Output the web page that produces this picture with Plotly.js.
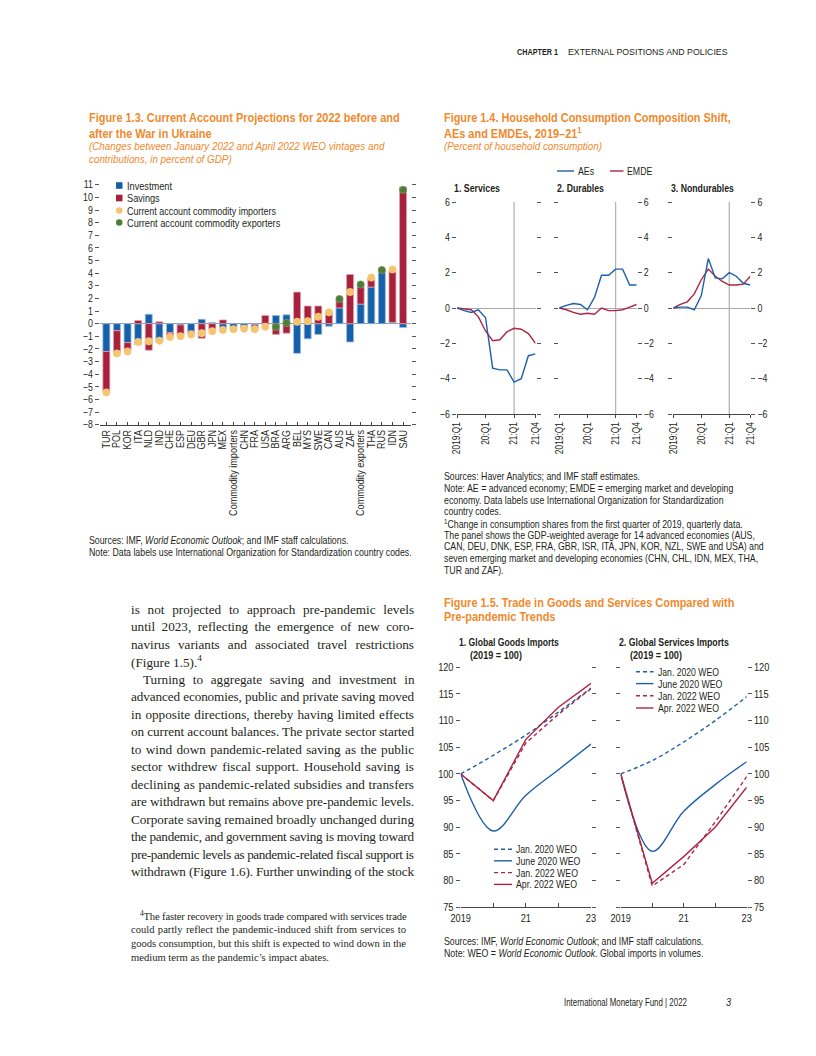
<!DOCTYPE html>
<html><head><meta charset="utf-8">
<script src="https://cdn.plot.ly/plotly-3.0.1.min.js"></script>
<style>html,body{margin:0;padding:0;background:#fff}#chart{width:816px;height:1056px}</style>
</head><body><div id="chart"></div>
<script>
// ---------------- Figure 1.3 data ----------------
const caCategories = ["TUR","POL","KOR","ITA","NLD","IND","CHE","ESP","DEU","GBR","JPN","MEX","Commodity importers","CHN","FRA","USA","BRA","ARG","BEL","MYS","SWE","CAN","AUS","ZAF","Commodity exporters","THA","RUS","IDN","SAU"];
const investment = [-2.2,-0.55,-1.5,-1.65,0.75,-1.45,-0.7,-0.1,-0.6,0.35,0.1,-0.5,-0.3,-0.15,-0.1,-0.1,0.65,0.7,-2.35,-1.2,-0.85,-0.2,1.25,-1.45,1.55,2.9,4.1,0.1,-0.3];
const savings = [-3.2,-1.75,-0.6,0.25,-2.1,0.15,-0.3,-0.85,-0.2,-1.15,-0.45,0.3,-0.1,-0.2,-0.3,0.65,-0.85,-0.75,2.5,1.4,1.4,0.95,0.6,3.9,1.35,0.7,0.15,4.1,10.8];
const caImporters = [-5.45,-2.37,-2.2,-1.45,-1.4,-1.35,-1.05,-1.0,-0.85,-0.75,-0.6,-0.5,-0.45,-0.4,-0.45,-0.25,null,null,0.15,0.2,0.55,0.9,null,2.5,null,3.65,null,4.3,null];
const caExporters = [null,null,null,null,null,null,null,null,null,null,null,null,null,null,null,null,-0.25,0.05,null,null,null,null,1.95,null,3.1,null,4.25,null,10.6];

// ---------------- Figure 1.4 data ----------------
const quarterLabels = ["2019:Q1","2019:Q2","2019:Q3","2019:Q4","2020:Q1","2020:Q2","2020:Q3","2020:Q4","2021:Q1","2021:Q2","2021:Q3","2021:Q4"];
const quarterTicks = ["2019:Q1","2020:Q1","2021:Q1","2021:Q4"];
const quarterTickText = ["2019:Q1","20:Q1","21:Q1","21:Q4"];
const servicesAE = [0,-0.15,-0.25,-0.1,-0.55,-3.4,-3.5,-3.5,-4.2,-4.0,-2.7,-2.6];
const servicesEMDE = [0,-0.05,-0.1,-0.5,-1.3,-1.85,-1.8,-1.35,-1.15,-1.2,-1.45,-2.0];
const durablesAE = [0,0.15,0.25,0.2,-0.1,0.6,1.85,1.85,2.2,2.2,1.3,1.3];
const durablesEMDE = [0,-0.1,-0.25,-0.35,-0.3,-0.35,0,-0.15,-0.15,-0.1,0.05,0.2];
const nondurablesAE = [0,0.05,0.05,-0.1,0.7,2.8,1.7,1.65,2.0,1.8,1.4,1.3];
const nondurablesEMDE = [0,0.2,0.35,0.8,1.6,2.2,1.8,1.5,1.3,1.3,1.35,1.8];

// ---------------- Figure 1.5 data ----------------
const years = [2019,2020,2021,2022,2023];
const yearTicks = [2019,2021,2023];
const yearTickText = ["2019","21","23"];
const goodsJan2020 = [100,103.5,107.3,111.6,116.1];
const goodsJune2020 = [100,89.3,96,100.8,105.6];
const goodsJan2022 = [100,95,105.8,111.2,116];
const goodsApr2022 = [100,95,106.5,112.5,117];
const servicesJan2020 = [100,102.5,106,110,114.5];
const servicesJune2020 = [100,85.5,93,98,102.3];
const servicesJan2022 = [100,79,83,91,99.5];
const servicesApr2022 = [100,79.5,84.5,90,97.5];
const weoNames = ["Jan. 2020 WEO","June 2020 WEO","Jan. 2022 WEO","Apr. 2022 WEO"];

// ---------------- styling ----------------
const W = 816, H = 1056;
const PX = v => v / W, PY = v => 1 - v / H;
const SANS = "'Liberation Sans',Arial,sans-serif";
const SERIF = "'Liberation Serif','DejaVu Serif',serif";
const INK = '#231f20', ORANGE = '#ef8a2d';
const BLUE = '#1f5fa6', RED = '#ad2540', BAR_BLUE = '#1660aa', BAR_RED = '#a8213c';
const YELLOW = '#f5c46c', GREEN = '#4e7d3a';

const traces = [];
// Fig 1.3
traces.push({type:'bar', x:caCategories, y:investment, name:'Investment', xaxis:'x', yaxis:'y', width:0.66,
  marker:{color:BAR_BLUE, line:{color:'#9dbde0', width:0.8}}, showlegend:false});
traces.push({type:'bar', x:caCategories, y:savings, name:'Savings', xaxis:'x', yaxis:'y', width:0.66,
  marker:{color:BAR_RED, line:{color:'#e0a3ae', width:0.8}}, showlegend:false});
traces.push({type:'scatter', mode:'markers', x:caCategories, y:caImporters, xaxis:'x', yaxis:'y', showlegend:false,
  marker:{color:YELLOW, size:7.5, line:{color:'#f7d597', width:0.5}}});
traces.push({type:'scatter', mode:'markers', x:caCategories, y:caExporters, xaxis:'x', yaxis:'y', showlegend:false,
  marker:{color:GREEN, size:7.5, line:{color:'#8fae7f', width:0.5}}});
// Fig 1.4
const f14 = [[servicesAE, servicesEMDE,'x2','y2'],[durablesAE, durablesEMDE,'x3','y3'],[nondurablesAE, nondurablesEMDE,'x4','y4']];
f14.forEach(([ae, em, xa, ya]) => {
  traces.push({type:'scatter', mode:'lines', x:quarterLabels, y:em, xaxis:xa, yaxis:ya, showlegend:false, line:{color:RED, width:1.4}});
  traces.push({type:'scatter', mode:'lines', x:quarterLabels, y:ae, xaxis:xa, yaxis:ya, showlegend:false, line:{color:BLUE, width:1.4}});
});
// Fig 1.5
const f15 = [[[goodsJan2020, goodsJune2020, goodsJan2022, goodsApr2022],'x5','y5'],[[servicesJan2020, servicesJune2020, servicesJan2022, servicesApr2022],'x6','y6']];
const f15Style = [{color:BLUE, dash:'4px,3px', shape:'spline'},{color:BLUE, dash:'solid', shape:'spline'},{color:RED, dash:'4px,3px', shape:'linear'},{color:RED, dash:'solid', shape:'linear'}];
f15.forEach(([series, xa, ya]) => {
  series.forEach((s, i) => traces.push({type:'scatter', mode:'lines', x:years, y:s, name:weoNames[i], xaxis:xa, yaxis:ya, showlegend:false,
    line:{color:f15Style[i].color, dash:f15Style[i].dash, shape:f15Style[i].shape, width:1.4}}));
});

const tf = (s) => ({family:SANS, size:s, color:INK});
const baseY = {showgrid:false, ticks:'outside', ticklen:4, tickcolor:'#555', tickwidth:1, mirror:'ticks', showline:false, tickfont:tf(10.5), fixedrange:true};
const baseX = {showgrid:false, showline:true, linecolor:'#444', linewidth:1, tickcolor:'#444', zeroline:false, tickfont:tf(10), fixedrange:true};
const qAxis = (d, a) => Object.assign({}, baseX, {domain:d, anchor:a, type:'category', range:[0,11], tickmode:'array', tickvals:quarterTicks, ticktext:quarterTickText, tickangle:-90, ticks:'outside', ticklen:3, tickfont:tf(10)});
const yrAxis = (d, a) => Object.assign({}, baseX, {domain:d, anchor:a, range:[2019,2023], tickmode:'array', tickvals:yearTicks, ticktext:yearTickText, ticks:'inside', ticklen:4, tickfont:tf(11),
  minor:{dtick:1, tick0:2019, ticks:'inside', ticklen:4, tickcolor:'#444', showgrid:false}});

const layout = {
  width:W, height:H, margin:{l:0,r:0,t:0,b:0}, paper_bgcolor:'#fff', plot_bgcolor:'rgba(0,0,0,0)',
  barmode:'relative', showlegend:false, font:{family:SANS, color:INK},
  xaxis: Object.assign({}, baseX, {domain:[PX(100),PX(411)], anchor:'y', type:'category', categoryorder:'array', categoryarray:caCategories,
    range:[-0.6,28.75], tickmode:'array', tickvals:caCategories, tickangle:-90, ticks:'inside', ticklen:3, tickfont:tf(10.8)}),
  yaxis: Object.assign({}, baseY, {domain:[PY(424.7),PY(181)], anchor:'x', range:[-8,11.3], tickmode:'linear', tick0:-8, dtick:1,
    zeroline:true, zerolinecolor:'#8b9cb3', zerolinewidth:1.2}),
  xaxis2: qAxis([PX(457),PX(535.5)], 'y2'),
  yaxis2: Object.assign({}, baseY, {domain:[PY(414),PY(202)], anchor:'x2', range:[-6,6], dtick:2, tick0:-6, zeroline:true, zerolinecolor:'#aaa', zerolinewidth:1}),
  xaxis3: qAxis([PX(559.3),PX(636.7)], 'y3'),
  yaxis3: Object.assign({}, baseY, {domain:[PY(414),PY(202)], anchor:'x3', side:'right', range:[-6,6], dtick:2, tick0:-6, zeroline:true, zerolinecolor:'#aaa', zerolinewidth:1}),
  xaxis4: qAxis([PX(673.3),PX(750.3)], 'y4'),
  yaxis4: Object.assign({}, baseY, {domain:[PY(414),PY(202)], anchor:'x4', side:'right', range:[-6,6], dtick:2, tick0:-6, zeroline:true, zerolinecolor:'#aaa', zerolinewidth:1}),
  xaxis5: yrAxis([PX(460.7),PX(591)], 'y5'),
  yaxis5: Object.assign({}, baseY, {domain:[PY(907.3),PY(667.3)], anchor:'x5', range:[75,120], dtick:5, tick0:75, zeroline:false, tickfont:tf(11)}),
  xaxis6: yrAxis([PX(620.7),PX(746.7)], 'y6'),
  yaxis6: Object.assign({}, baseY, {domain:[PY(907.3),PY(667.3)], anchor:'x6', side:'right', range:[75,120], dtick:5, tick0:75, zeroline:false, tickfont:tf(11)}),
  shapes: [], annotations: []
};

// vertical reference lines at 2021:Q1
[['x2','y2'],['x3','y3'],['x4','y4']].forEach(([xa,ya]) => layout.shapes.push({type:'line', xref:xa, yref:ya+' domain', x0:'2021:Q1', x1:'2021:Q1', y0:0, y1:1, line:{color:'#b5b5b5', width:1.3}, layer:'below'}));

const A = layout.annotations;
const fit = []; // [annotationIndex, mode]
function txt(t, x, y, size, cls, o) {
  fit.push([A.length, cls]);
  A.push(Object.assign({text:t, x:PX(x), y:PY(y), xref:'paper', yref:'paper', xanchor:'left', yanchor:'middle', align:'left', showarrow:false,
    font:{family:SANS, size:size, color:INK}, borderpad:0}, o || {}));
}
const ofont = (s) => ({font:{family:SANS, size:s, color:ORANGE}});

// header / footer
txt('<b>CHAPTER 1</b>', 516, 52, 9.5, 41);
txt('EXTERNAL POSITIONS AND POLICIES', 567, 52, 9, 160);
txt('International Monetary Fund | 2022', 563, 1002, 11, 123);
txt('<i>3</i>', 725, 1002, 11, 'r');

// Figure 1.3 titles
txt('<b>Figure 1.3. Current Account Projections for 2022 before and</b>', 88, 118, 12.8, 311, ofont(12.8));
txt('<b>after the War in Ukraine</b>', 88, 133, 12.8, 'b', ofont(12.8));
txt('<i>(Changes between January 2022 and April 2022 WEO vintages and</i>', 88, 146.5, 11.5, 296, ofont(11.5));
txt('<i>contributions, in percent of GDP)</i>', 88, 159.5, 11.5, 'i', ofont(11.5));
// legend 1.3
const lg13 = [['Investment','rect',BAR_BLUE],['Savings','rect',BAR_RED],['Current account commodity importers','circle',YELLOW],['Current account commodity exporters','circle',GREEN]];
const lg13y = [185.5,198,210.5,222.5];
lg13.forEach(([n, sh, c], i) => {
  layout.shapes.push({type:sh, xref:'paper', yref:'paper', x0:PX(116), x1:PX(122.5), y0:PY(lg13y[i]+3.3), y1:PY(lg13y[i]-3.3), fillcolor:c, line:{width:0}});
  txt(n, 125.5, lg13y[i], 11, i === 2 ? 149 : 'r');
});
txt('Sources: IMF, <i>World Economic Outlook</i>; and IMF staff calculations.', 88, 539.5, 10.5, 'r');
txt('Note: Data labels use International Organization for Standardization country codes.', 88, 551.5, 10.5, 323);

// Figure 1.4 titles
txt('<b>Figure 1.4. Household Consumption Composition Shift,</b>', 443, 118, 12.8, 287, ofont(12.8));
txt('<b>AEs and EMDEs, 2019–21</b><b><sup>1</sup></b>', 443, 132.5, 12.8, 'b', ofont(12.8));
txt('<i>(Percent of household consumption)</i>', 443, 146.5, 11.5, 'i', ofont(11.5));
layout.shapes.push({type:'line', xref:'paper', yref:'paper', x0:PX(557), x1:PX(574), y0:PY(171), y1:PY(171), line:{color:BLUE, width:1.4}});
txt('AEs', 577, 171, 10.5, 'r');
layout.shapes.push({type:'line', xref:'paper', yref:'paper', x0:PX(610), x1:PX(623.5), y0:PY(171), y1:PY(171), line:{color:RED, width:1.4}});
txt('EMDE', 626, 171, 10.5, 'r');
txt('<b>1. Services</b>', 453, 188.5, 10.5, 46);
txt('<b>2. Durables</b>', 555.5, 188.5, 10.5, 47);
txt('<b>3. Nondurables</b>', 670, 188.5, 10.5, 63);
const notes14 = ['Sources: Haver Analytics; and IMF staff estimates.',
 'Note: AE = advanced economy; EMDE = emerging market and developing',
 'economy. Data labels use International Organization for Standardization',
 'country codes.',
 '<sup>1</sup>Change in consumption shares from the first quarter of 2019, quarterly data.',
 'The panel shows the GDP-weighted average for 14 advanced economies (AUS,',
 'CAN, DEU, DNK, ESP, FRA, GBR, ISR, ITA, JPN, KOR, NZL, SWE and USA) and',
 'seven emerging market and developing economies (CHN, CHL, IDN, MEX, THA,',
 'TUR and ZAF).'];
notes14.forEach((t, i) => txt(t, 443, 476.5 + i * 11.65, 10.5, i === 1 ? 290 : 'r'));

// Figure 1.5 titles
txt('<b>Figure 1.5. Trade in Goods and Services Compared with</b>', 443, 602, 12.8, 'b', ofont(12.8));
txt('<b>Pre-pandemic Trends</b>', 443, 616.5, 12.8, 'b', ofont(12.8));
txt('<b>1. Global Goods Imports</b>', 457.5, 642, 10.5, 100);
txt('<b>(2019 = 100)</b>', 469, 654.5, 10.5, 52);
txt('<b>2. Global Services Imports</b>', 617.5, 642, 10.5, 110);
txt('<b>(2019 = 100)</b>', 629, 654.5, 10.5, 52);
const lg15 = [[494, 512, 514.5, [849.3,860.8,872.6,884.4]],[636, 653.5, 656.5, [671.8,683.6,695.8,708]]];
lg15.forEach(([x0, x1, xt, ys]) => {
  weoNames.forEach((n, i) => {
    layout.shapes.push({type:'line', xref:'paper', yref:'paper', x0:PX(x0), x1:PX(x1), y0:PY(ys[i]), y1:PY(ys[i]), line:{color:f15Style[i].color, dash:f15Style[i].dash, width:1.4}});
    txt(n, xt, ys[i], 10.5, i === 0 ? 61 : 'r');
  });
});
txt('Sources: IMF, <i>World Economic Outlook</i>; and IMF staff calculations.', 443, 941, 10.5, 'r');
txt('Note: WEO = <i>World Economic Outlook</i>. Global imports in volumes.', 443, 953, 10.5, 'r');

// body text
const body = ['is not projected to approach pre-pandemic levels',
 'until 2023, reflecting the emergence of new coro-',
 'navirus variants and associated travel restrictions',
 '(Figure 1.5).<sup>4</sup>',
 'Turning to aggregate saving and investment in',
 'advanced economies, public and private saving moved',
 'in opposite directions, thereby having limited effects',
 'on current account balances. The private sector started',
 'to wind down pandemic-related saving as the public',
 'sector withdrew fiscal support. Household saving is',
 'declining as pandemic-related subsidies and transfers',
 'are withdrawn but remains above pre-pandemic levels.',
 'Corporate saving remained broadly unchanged during',
 'the pandemic, and government saving is moving toward',
 'pre-pandemic levels as pandemic-related fiscal support is',
 'withdrawn (Figure 1.6). Further unwinding of the stock'];
body.forEach((t, i) => {
  const x = (i === 4) ? 141.5 : 130;
  txt(t, x, 609.5 + i * 17.47, 13.2, i === 3 ? 'none' : ['j', 413 - x], {font:{family:SERIF, size:13.2, color:INK}});
});
const foot = ['<sup>4</sup>The faster recovery in goods trade compared with services trade',
 'could partly reflect the pandemic-induced shift from services to',
 'goods consumption, but this shift is expected to wind down in the',
 'medium term as the pandemic’s impact abates.'];
foot.forEach((t, i) => {
  const x = i === 0 ? 138.5 : 130;
  txt(t, x, 915.5 + i * 14, 10.6, i < 3 ? ['j', 405 - x] : 'none', {font:{family:SERIF, size:10.6, color:INK}});
});

Plotly.newPlot('chart', traces, layout, {displayModeBar:false, staticPlot:true}).then(gd => {
  const grp = i => gd.querySelector('.annotation[data-index="' + i + '"]');
  const el = i => { const g = grp(i); return g ? g.querySelector('text') : null; };
  const wOf = i => { const e = el(i); return e ? e.getComputedTextLength() : 1; };
  const ref = (val) => fit.find(f => f[1] === val);
  const kb = 311 / wOf(ref(311)[0]);
  const ki = 296 / wOf(ref(296)[0]);
  const kr = 323 / wOf(ref(323)[0]);
  fit.forEach(([idx, cls]) => {
    const e = el(idx); if (!e || cls === 'none') return;
    const w = e.getComputedTextLength();
    if (Array.isArray(cls)) {
      const target = cls[1];
      const spaces = (e.textContent.match(/ /g) || []).length;
      if (target > w && spaces > 0) {
        e.style.wordSpacing = ((target - w) / spaces).toFixed(2) + 'px';
      } else if (target < w) {
        e.setAttribute('textLength', target.toFixed(2)); e.setAttribute('lengthAdjust', 'spacing');
      }
      return;
    }
    let target;
    if (typeof cls === 'number') target = cls;
    else if (cls === 'b') target = w * kb;
    else if (cls === 'i') target = w * ki;
    else if (cls === 'r') target = w * kr;
    if (target) {
      const k = target / w;
      const bb = e.getBBox();
      const x0 = bb.x;
      const prev = e.getAttribute('transform') || '';
      e.setAttribute('transform', (prev + ' translate(' + x0.toFixed(2) + ',0) scale(' + k.toFixed(4) + ',1) translate(' + (-x0).toFixed(2) + ',0)').trim());
    }
  });
  gd.querySelectorAll('.xaxislayer-above text, .yaxislayer-above text').forEach(e => {
    const w = e.getComputedTextLength();
    if (w > 0) { e.setAttribute('textLength', (w * kr).toFixed(2)); e.setAttribute('lengthAdjust', 'spacingAndGlyphs'); }
  });
});
</script></body></html>
